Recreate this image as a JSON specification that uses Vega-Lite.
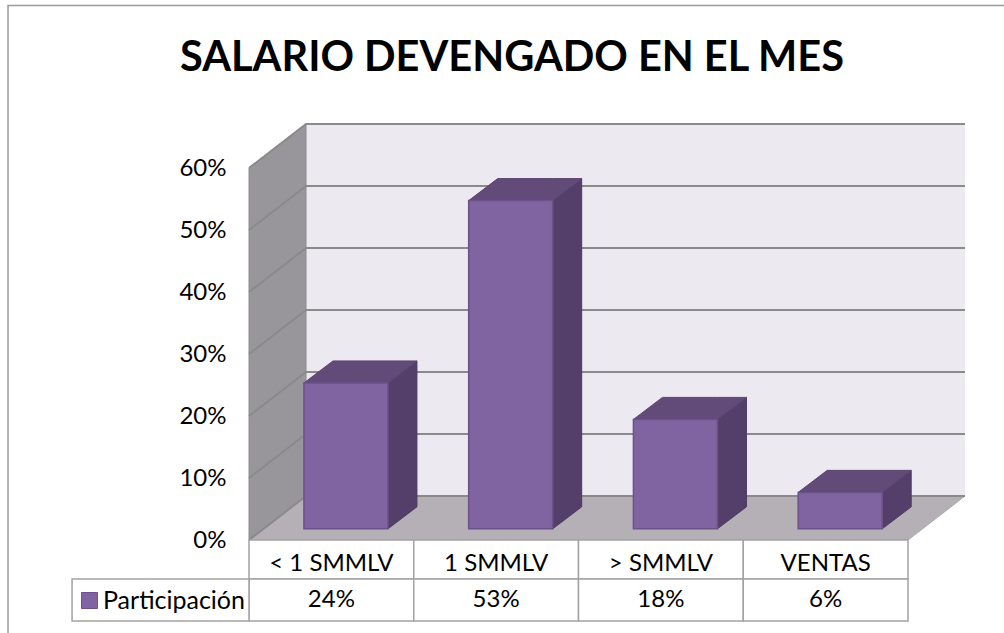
{
"$schema":"https://vega.github.io/schema/vega-lite/v6.json",
"width":1004,"height":633,"autosize":{"type":"none"},"padding":0,"background":"white",
"title":{"text":"SALARIO DEVENGADO EN EL MES","font":"Lato","fontSize":41.5,"fontWeight":"bold","color":"#000000","anchor":"middle","dx":10,"offset":-79},
"config":{"view":{"stroke":null},"font":"Lato"},
"datasets":{
"bars":[{"category":"< 1 SMMLV","value":0.2353},{"category":"1 SMMLV","value":0.5294},{"category":"> SMMLV","value":0.1765},{"category":"VENTAS","value":0.0588}],
"ticks":[{"tick":0},{"tick":0.1},{"tick":0.2},{"tick":0.3},{"tick":0.4},{"tick":0.5},{"tick":0.6}],
"wall":[{"top":0.6}]
},
"encoding":{
"x":{"field":"x","type":"quantitative","scale":{"domain":[-1.5114,4.5827],"nice":false,"zero":false},"axis":null},
"y":{"field":"y","type":"quantitative","scale":{"domain":[-0.15,0.87097],"nice":false,"zero":false},
"axis":{"title":null,"values":[0,0.1,0.2,0.3,0.4,0.5,0.6],"format":".0%","domain":false,"ticks":false,"grid":false,"labelPadding":-226,"labelFont":"Lato","labelFontSize":24,"labelColor":"#000000","zindex":1}}
},
"layer":[
{"data":{"values":[{"frame":"chart area"}]},
"transform":[{"calculate":"-1.4628","as":"x"},{"calculate":"4.8","as":"x2"},{"calculate":"0.8621","as":"y"},{"calculate":"-0.3","as":"y2"}],
"mark":{"type":"rect","fill":"white","stroke":"#9A9A9A","strokeWidth":1.5},
"encoding":{"x2":{"field":"x2"},"y2":{"field":"y2"}}},
{"data":{"name":"wall"},
"transform":[{"calculate":"0.346","as":"x"},{"calculate":"4.346","as":"x2"},{"calculate":"0.07097","as":"y"},{"calculate":"datum.top+0.07097","as":"y2"}],
"mark":{"type":"rect","fill":"#ECE9F1"},
"encoding":{"x2":{"field":"x2"},"y2":{"field":"y2"}}},
{"data":{"name":"wall"},
"transform":[{"calculate":"[0,1]","as":"t"},{"flatten":["t"]},{"calculate":"datum.t*0.346","as":"x"},{"calculate":"datum.t*0.07097","as":"y"},{"calculate":"datum.top+datum.y","as":"y2"}],
"mark":{"type":"area","fill":"#98969A","stroke":"#8C8C8C","strokeWidth":1},
"encoding":{"y2":{"field":"y2"}}},
{"data":{"name":"wall"},
"transform":[{"calculate":"[0,1,2,3]","as":"t"},{"flatten":["t"]},{"calculate":"[0,0.346,4,4.346][datum.t]","as":"x"},{"calculate":"[0,0,0,0.07097][datum.t]","as":"y"},{"calculate":"[0,0.07097,0.07097,0.07097][datum.t]","as":"y2"}],
"mark":{"type":"area","fill":"#B5B0B5","stroke":"#A8A8A8","strokeWidth":1},
"encoding":{"y2":{"field":"y2"}}},
{"data":{"name":"ticks"},
"transform":[{"calculate":"[0,1,2]","as":"t"},{"flatten":["t"]},{"calculate":"[0,0.346,4.346][datum.t]","as":"x"},{"calculate":"datum.tick+[0,0.07097,0.07097][datum.t]","as":"y"}],
"mark":{"type":"line","color":"#8A8A8A","strokeWidth":2},
"encoding":{"detail":{"field":"tick"}}},
{"data":{"name":"bars"},
"transform":[{"calculate":"indexof(['< 1 SMMLV','1 SMMLV','> SMMLV','VENTAS'],datum.category)","as":"i"},{"calculate":"datum.i+0.5+0.0884-0.255","as":"xl"},{"calculate":"[0,1]","as":"t"},{"flatten":["t"]},{"calculate":"datum.xl+0.51+datum.t*0.176","as":"x"},{"calculate":"0.018+datum.t*0.0355","as":"y2"},{"calculate":"datum.value+datum.y2","as":"y"}],
"mark":{"type":"area","fill":"#533F69","stroke":"#4E3B63","strokeWidth":1},
"encoding":{"y2":{"field":"y2"},"detail":{"field":"category"}}},
{"data":{"name":"bars"},
"transform":[{"calculate":"indexof(['< 1 SMMLV','1 SMMLV','> SMMLV','VENTAS'],datum.category)","as":"i"},{"calculate":"datum.i+0.5+0.0884-0.255","as":"xl"},{"calculate":"[0,1,2,3]","as":"t"},{"flatten":["t"]},{"calculate":"datum.xl+[0,0.176,0.51,0.686][datum.t]","as":"x"},{"calculate":"datum.value+0.018+[0,0,0,0.0355][datum.t]","as":"y"},{"calculate":"datum.value+0.018+[0,0.0355,0.0355,0.0355][datum.t]","as":"y2"}],
"mark":{"type":"area","fill":"#624A79","stroke":"#5C4672","strokeWidth":1},
"encoding":{"y2":{"field":"y2"},"detail":{"field":"category"}}},
{"data":{"name":"bars"},
"transform":[{"calculate":"indexof(['< 1 SMMLV','1 SMMLV','> SMMLV','VENTAS'],datum.category)","as":"i"},{"calculate":"datum.i+0.5+0.0884-0.255","as":"x"},{"calculate":"datum.x+0.51","as":"x2"},{"calculate":"datum.value+0.018","as":"y"},{"calculate":"0.018","as":"y2"}],
"mark":{"type":"rect","stroke":"#6C5289","strokeWidth":1.5},
"encoding":{"x2":{"field":"x2"},"y2":{"field":"y2"},
"color":{"datum":"Participación","scale":{"range":["#8063A1"]},
"legend":{"orient":"none","legendX":77,"legendY":588,"title":null,"symbolType":"square","symbolSize":256,"symbolStrokeColor":"#6C5289","symbolStrokeWidth":1,"labelFont":"Lato","labelFontSize":25,"labelColor":"#000000","labelOffset":1,"padding":0}}}},
{"data":{"name":"bars"},
"transform":[{"calculate":"indexof(['< 1 SMMLV','1 SMMLV','> SMMLV','VENTAS'],datum.category)","as":"i"},{"calculate":"[0,1]","as":"row"},{"flatten":["row"]},{"calculate":"datum.i","as":"x"},{"calculate":"datum.i+1","as":"x2"},{"calculate":"[0,-0.0629][datum.row]","as":"y"},{"calculate":"[-0.0629,-0.1306][datum.row]","as":"y2"}],
"mark":{"type":"rect","fill":"white","stroke":"#A3A3A3","strokeWidth":1.5},
"encoding":{"x2":{"field":"x2"},"y2":{"field":"y2"}}},
{"data":{"values":[{"cell":"legend"}]},
"transform":[{"calculate":"-1.074","as":"x"},{"calculate":"0","as":"x2"},{"calculate":"-0.0629","as":"y"},{"calculate":"-0.1306","as":"y2"}],
"mark":{"type":"rect","fill":"white","stroke":"#A3A3A3","strokeWidth":1.5},
"encoding":{"x2":{"field":"x2"},"y2":{"field":"y2"}}},
{"data":{"name":"bars"},
"transform":[{"calculate":"indexof(['< 1 SMMLV','1 SMMLV','> SMMLV','VENTAS'],datum.category)","as":"i"},{"calculate":"datum.i+0.5","as":"x"},{"calculate":"-0.0387","as":"y"}],
"mark":{"type":"text","font":"Lato","fontSize":24,"color":"#000000","baseline":"middle","align":"center"},
"encoding":{"text":{"field":"category"}}},
{"data":{"name":"bars"},
"transform":[{"calculate":"indexof(['< 1 SMMLV','1 SMMLV','> SMMLV','VENTAS'],datum.category)","as":"i"},{"calculate":"datum.i+0.5","as":"x"},{"calculate":"-0.0968","as":"y"}],
"mark":{"type":"text","font":"Lato","fontSize":24,"color":"#000000","baseline":"middle","align":"center"},
"encoding":{"text":{"field":"value","format":".0%"}}}
]
}
